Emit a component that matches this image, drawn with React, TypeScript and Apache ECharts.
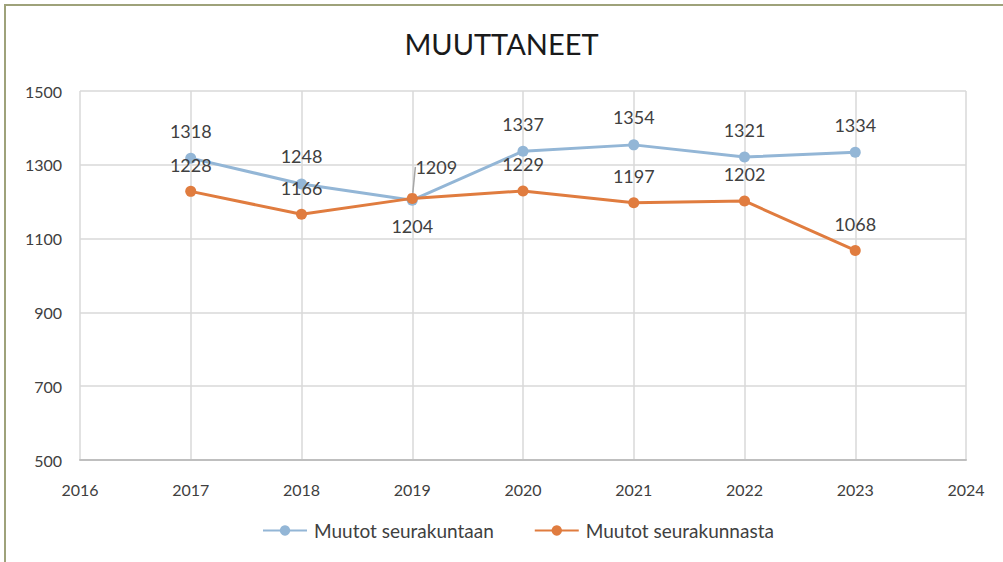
import React, { useEffect, useRef } from "react";
import * as echarts from "echarts";

const years = [2017, 2018, 2019, 2020, 2021, 2022, 2023];
const muutotSeurakuntaan = [1318, 1248, 1204, 1337, 1354, 1321, 1334];
const muutotSeurakunnasta = [1228, 1166, 1209, 1229, 1197, 1202, 1068];
const seriesNames = ["Muutot seurakuntaan", "Muutot seurakunnasta"];
const titleText = "MUUTTANEET";

const FONT = "Lato, 'Open Sans', sans-serif";
const TEXT = "#404040";
const BLUE = "#93b6d6";
const ORANGE = "#e07c3f";

export default function App() {
  const ref = useRef<HTMLDivElement>(null);
  useEffect(() => {
    document.body.style.margin = "0";
    const chart = echarts.init(ref.current!, null, { renderer: "svg" });
    const blueData = years.map((y, i) => {
      const item: any = { value: [y, muutotSeurakuntaan[i]] };
      if (y === 2019) item.label = { position: "bottom", distance: 11 };
      return item;
    });
    const orangeData = years.map((y, i) => {
      const item: any = { value: [y, muutotSeurakunnasta[i]] };
      if (y === 2019)
        item.labelLine = { show: true, lineStyle: { color: "#a6a6a6", width: 1.5 } };
      return item;
    });
    chart.setOption({
      animation: false,
      backgroundColor: "#ffffff",
      textStyle: { fontFamily: FONT, color: TEXT },
      title: {
        text: titleText,
        left: "center",
        top: 24,
        textStyle: { fontFamily: FONT, fontSize: 29, fontWeight: "normal", color: "#1a1a1a" },
      },
      graphic: [
        {
          type: "rect",
          shape: { x: 5, y: 5, width: 1100, height: 700 },
          style: { fill: "none", stroke: "#9ea27a", lineWidth: 2 },
          silent: true,
          z: 100,
        },
      ],
      legend: {
        bottom: 17,
        left: 257,
        itemWidth: 44,
        itemHeight: 13,
        itemGap: 40,
        textStyle: { fontFamily: FONT, fontSize: 19, color: TEXT, padding: [0, 0, 0, 2] },
        data: seriesNames,
      },
      grid: { left: 80, right: 37, top: 91, bottom: 102 },
      xAxis: {
        type: "value",
        min: 2016,
        max: 2024,
        interval: 1,
        axisLine: { show: true, lineStyle: { color: "#bfbfbf", width: 2 } },
        axisTick: { show: false },
        splitLine: { show: true, lineStyle: { color: "#d9d9d9", width: 1.5 } },
        axisLabel: {
          fontFamily: FONT,
          fontSize: 16,
          color: TEXT,
          margin: 21,
          formatter: (v: number) => String(v),
        },
      },
      yAxis: {
        type: "value",
        min: 500,
        max: 1500,
        interval: 200,
        axisLine: { show: false },
        axisTick: { show: false },
        splitLine: { show: true, lineStyle: { color: "#d9d9d9", width: 1.5 } },
        axisLabel: {
          fontFamily: FONT,
          fontSize: 16,
          color: TEXT,
          margin: 18,
          formatter: (v: number) => String(v),
        },
      },
      series: [
        {
          name: seriesNames[0],
          type: "line",
          data: blueData,
          color: BLUE,
          symbol: "circle",
          symbolSize: 11,
          lineStyle: { width: 3, color: BLUE },
          itemStyle: { color: BLUE },
          label: { show: true, position: "top", distance: 13, fontFamily: FONT, fontSize: 18, color: TEXT },
          z: 2,
        },
        {
          name: seriesNames[1],
          type: "line",
          data: orangeData,
          color: ORANGE,
          symbol: "circle",
          symbolSize: 11,
          lineStyle: { width: 3, color: ORANGE },
          itemStyle: { color: ORANGE },
          label: { show: true, position: "top", distance: 12, fontFamily: FONT, fontSize: 18, color: TEXT },
          labelLayout: (params: any) =>
            params.dataIndex === 2 ? { dx: 24, dy: -5 } : {},
          z: 3,
        },
      ],
    });
    return () => chart.dispose();
  }, []);
  return <div ref={ref} style={{ width: 1003, height: 562 }} />;
}
